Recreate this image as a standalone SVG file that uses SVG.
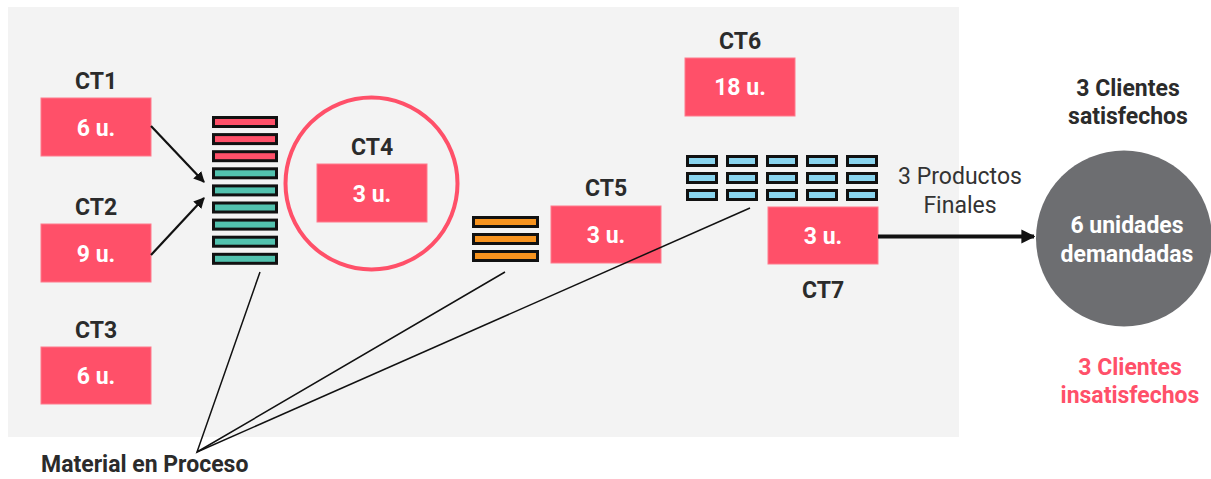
<svg xmlns="http://www.w3.org/2000/svg" width="1211" height="479" viewBox="0 0 1211 479">
<defs>
<style>
.lbl{font-family:Roboto,"Liberation Sans",sans-serif;font-weight:bold;font-size:23px;fill:#2b2b2b;text-anchor:middle}
.val{font-family:Roboto,"Liberation Sans",sans-serif;font-weight:bold;font-size:23px;fill:#ffffff;text-anchor:middle}
.box{fill:#ff5069;stroke:#ff7a8c;stroke-width:1}
.bar{stroke:#111111;stroke-width:3}
.r{fill:#ff5069}
.t{fill:#52c2ae}
.o{fill:#f7931e}
.b{fill:#89d4ee}
.thin{stroke:#111111;stroke-width:1.5;fill:none}
.reg{font-family:Roboto,"Liberation Sans",sans-serif;font-size:23px;fill:#333333;text-anchor:middle}
</style>
<marker id="ah" viewBox="0 0 10 10" refX="9" refY="5" markerWidth="5" markerHeight="5" orient="auto" markerUnits="strokeWidth">
<path d="M0,0 L10,5 L0,10 Z" fill="#111111"/>
</marker>
<marker id="ah2" viewBox="0 0 10 10" refX="9" refY="5" markerWidth="3.5" markerHeight="4.5" orient="auto" markerUnits="strokeWidth">
<path d="M0,0 L10,5 L0,10 Z" fill="#111111"/>
</marker>
</defs>
<rect x="8" y="7" width="951" height="430" fill="#f3f3f3"/>

<g id="ct1"><text class="lbl" x="96" y="89">CT1</text><rect class="box" x="41" y="98" width="110" height="58"/><text class="val" x="96" y="136">6 u.</text></g>
<g id="ct2"><text class="lbl" x="96" y="215">CT2</text><rect class="box" x="41" y="224" width="110" height="58"/><text class="val" x="96" y="262">9 u.</text></g>
<g id="ct3"><text class="lbl" x="96" y="338">CT3</text><rect class="box" x="41" y="347" width="110" height="57"/><text class="val" x="96" y="384">6 u.</text></g>

<g id="wip1">
<rect class="bar r" x="213.5" y="117.5" width="63" height="9"/>
<rect class="bar r" x="213.5" y="134.6" width="63" height="9"/>
<rect class="bar r" x="213.5" y="151.7" width="63" height="9"/>
<rect class="bar t" x="213.5" y="168.8" width="63" height="9"/>
<rect class="bar t" x="213.5" y="185.9" width="63" height="9"/>
<rect class="bar t" x="213.5" y="203" width="63" height="9"/>
<rect class="bar t" x="213.5" y="220.1" width="63" height="9"/>
<rect class="bar t" x="213.5" y="237.2" width="63" height="9"/>
<rect class="bar t" x="213.5" y="254.3" width="63" height="9"/>
</g>

<g id="ct4"><circle cx="371.5" cy="183.5" r="86" fill="none" stroke="#ff5069" stroke-width="4"/><text class="lbl" x="372" y="155">CT4</text><rect class="box" x="317" y="164" width="110" height="58"/><text class="val" x="372" y="202">3 u.</text></g>

<g id="wip2">
<rect class="bar o" x="473.5" y="217.5" width="64" height="9"/>
<rect class="bar o" x="473.5" y="234.5" width="64" height="9"/>
<rect class="bar o" x="473.5" y="251.5" width="64" height="9"/>
</g>

<g id="ct5"><text class="lbl" x="606" y="196">CT5</text><rect class="box" x="551" y="206" width="110" height="57"/><text class="val" x="606" y="243">3 u.</text></g>

<g id="ct6"><text class="lbl" x="740" y="49">CT6</text><rect class="box" x="685" y="58" width="110" height="58"/><text class="val" x="740" y="95">18 u.</text></g>

<g id="wip3">
<rect class="bar b" x="687.5" y="156.5" width="29" height="9"/><rect class="bar b" x="727.5" y="156.5" width="29" height="9"/><rect class="bar b" x="767.5" y="156.5" width="29" height="9"/><rect class="bar b" x="807.5" y="156.5" width="29" height="9"/><rect class="bar b" x="847.5" y="156.5" width="29" height="9"/>
<rect class="bar b" x="687.5" y="173.5" width="29" height="9"/><rect class="bar b" x="727.5" y="173.5" width="29" height="9"/><rect class="bar b" x="767.5" y="173.5" width="29" height="9"/><rect class="bar b" x="807.5" y="173.5" width="29" height="9"/><rect class="bar b" x="847.5" y="173.5" width="29" height="9"/>
<rect class="bar b" x="687.5" y="190.5" width="29" height="9"/><rect class="bar b" x="727.5" y="190.5" width="29" height="9"/><rect class="bar b" x="767.5" y="190.5" width="29" height="9"/><rect class="bar b" x="807.5" y="190.5" width="29" height="9"/><rect class="bar b" x="847.5" y="190.5" width="29" height="9"/>
</g>

<g id="ct7"><rect class="box" x="768" y="207" width="110" height="57"/><text class="val" x="823" y="244">3 u.</text><text class="lbl" x="823" y="298">CT7</text></g>

<g id="connectors">
<line x1="151" y1="126" x2="204" y2="182" stroke="#111111" stroke-width="2.2" marker-end="url(#ah)"/>
<line x1="151" y1="255" x2="204" y2="198" stroke="#111111" stroke-width="2.2" marker-end="url(#ah)"/>
<line x1="878" y1="236.5" x2="1034" y2="236.5" stroke="#111111" stroke-width="4" marker-end="url(#ah2)"/>
<polyline class="thin" points="260,272 197,452 505,272"/>
<line class="thin" x1="197" y1="452" x2="750" y2="208"/>
</g>

<g id="productos"><text class="reg" x="960" y="184">3 Productos</text><text class="reg" x="960" y="213">Finales</text></g>

<g id="demanda"><circle cx="1124" cy="238.5" r="88" fill="#6d6e71"/><text class="val" x="1127" y="233">6 unidades</text><text class="val" x="1127" y="262">demandadas</text></g>

<g id="satisfechos"><text class="lbl" x="1128" y="96">3 Clientes</text><text class="lbl" x="1128" y="124">satisfechos</text></g>
<g id="insatisfechos"><text class="lbl" x="1130" y="375" style="fill:#ff5069">3 Clientes</text><text class="lbl" x="1130" y="403" style="fill:#ff5069">insatisfechos</text></g>

<g id="material"><text class="lbl" x="41" y="472" style="text-anchor:start">Material en Proceso</text></g>
</svg>
